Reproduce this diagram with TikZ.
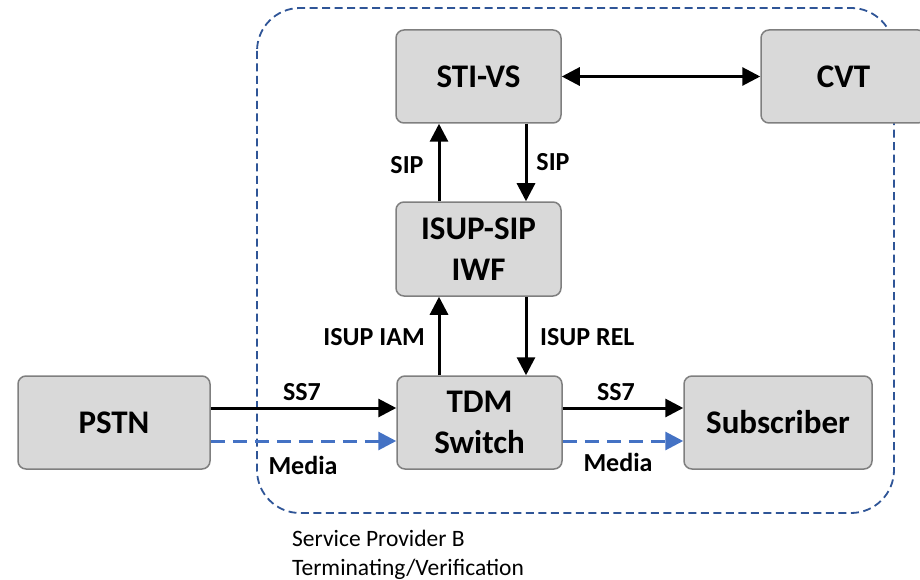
\documentclass[tikz,border=0pt]{standalone}
\usepackage{fontspec}
\setmainfont{Carlito}
\usetikzlibrary{arrows.meta}
\definecolor{boxfill}{HTML}{D9D9D9}
\definecolor{boxline}{HTML}{7F7F7F}
\definecolor{zoneline}{HTML}{2F5597}
\definecolor{media}{HTML}{4472C4}
\tikzset{
  unit/.style={draw=boxline, line width=1.5pt, fill=boxfill, rounded corners=8pt,
    inner sep=0pt, align=center, font=\bfseries\fontsize{33}{41}\selectfont},
  sig/.style={line width=3pt, -{Triangle[length=18pt,width=18pt]}},
  sigboth/.style={line width=3pt, {Triangle[length=18pt,width=18pt]}-{Triangle[length=18pt,width=18pt]}},
  med/.style={draw=media, line width=3pt, dash pattern=on 14pt off 8pt,
    -{Triangle[length=18pt,width=18pt]}},
  lbl/.style={font=\bfseries\fontsize{26}{30}\selectfont, inner sep=0pt},
  note/.style={anchor=base west, inner sep=0pt, font=\fontsize{23.5}{29}\selectfont},
}
\begin{document}
\begin{tikzpicture}[x=1pt,y=-1pt]
\useasboundingbox (0,0) rectangle (920,580);
% provider zone
\draw[zoneline, line width=1.8pt, dash pattern=on 8pt off 4.5pt, rounded corners=43pt]
  (257,8) rectangle (894,513);
% network elements
\node[unit, minimum width=165pt, minimum height=93pt] (sti) at (478.5,76.5) {STI-VS};
\node[unit, minimum width=165pt, minimum height=93pt] (cvt) at (843.5,76.5) {CVT};
\node[unit, minimum width=165pt, minimum height=94pt] (iwf) at (478.5,249) {ISUP-SIP\\IWF};
\node[unit, minimum width=165pt, minimum height=93pt] (tdm) at (479.5,422.5) {TDM\\Switch};
\node[unit, minimum width=192pt, minimum height=93pt] (pstn) at (114,422.5) {PSTN};
\node[unit, minimum width=188pt, minimum height=93pt] (sub) at (778,422.5) {Subscriber};
% signalling
\draw[sigboth] (sti.east) -- (cvt.west);
\draw[sig] (iwf.north -| 439,0) -- (sti.south -| 439,0);
\draw[sig] (sti.south -| 526,0) -- (iwf.north -| 526,0);
\draw[sig] (tdm.north -| 439,0) -- (iwf.south -| 439,0);
\draw[sig] (iwf.south -| 526,0) -- (tdm.north -| 526,0);
\draw[sig] (pstn.east |- 0,408) -- (tdm.west |- 0,408);
\draw[sig] (tdm.east |- 0,408) -- (sub.west |- 0,408);
% media
\draw[med] (pstn.east |- 0,441) -- (tdm.west |- 0,441);
\draw[med] (tdm.east |- 0,441) -- (sub.west |- 0,441);
% labels
\node[lbl] (l1) at (407,165) {SIP};
\node[lbl] (l2) at (553,162) {SIP};
\node[lbl, anchor=east] (l3) at (425,337) {ISUP IAM};
\node[lbl, anchor=west] (l4) at (540,337) {ISUP REL};
\node[lbl] (l5) at (302,392) {SS7};
\node[lbl] (l6) at (303,465) {Media};
\node[lbl] (l7) at (616,392) {SS7};
\node[lbl] (l8) at (618,462) {Media};
\node[note] (zone1) at (292,546) {Service Provider B};
\node[note] (zone2) at (292,575) {Terminating/Verification};
\end{tikzpicture}
\end{document}
